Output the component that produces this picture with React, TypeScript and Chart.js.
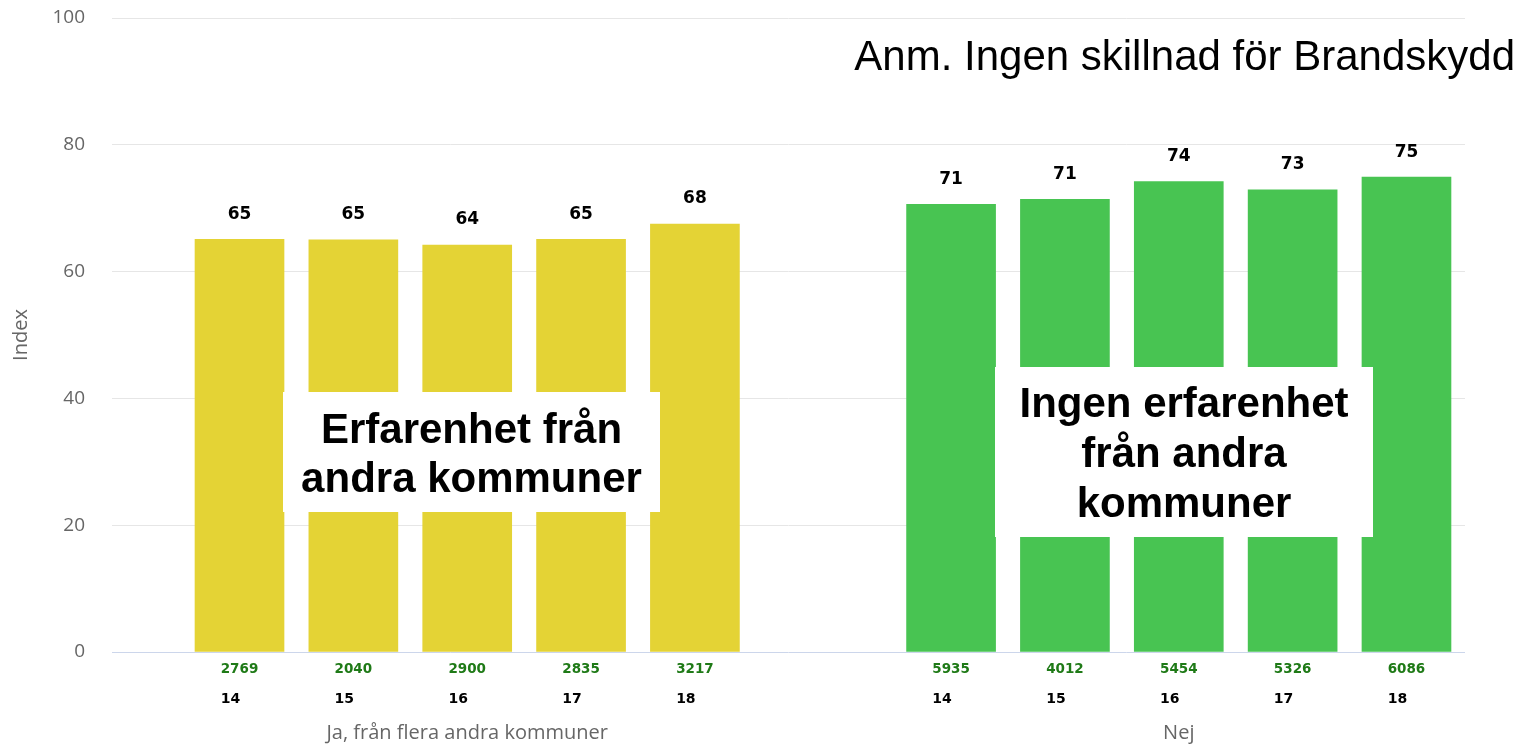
import React, { useEffect, useRef } from "react";
import { Chart, registerables } from "chart.js";

Chart.register(...registerables);

// ---- data ----
const YEARS = ["14", "15", "16", "17", "18"];
const GROUPS = ["Ja, från flera andra kommuner", "Nej"];
const JA_VALUES = [65.1, 65.0, 64.2, 65.1, 67.5];
const NEJ_VALUES = [70.6, 71.4, 74.2, 72.9, 74.9];
const JA_COUNTS = ["2769", "2040", "2900", "2835", "3217"];
const NEJ_COUNTS = ["5935", "4012", "5454", "5326", "6086"];
const Y_MIN = 0;
const Y_MAX = 100;
const Y_STEP = 20;
const NOTE = "Anm. Ingen skillnad för Brandskydd";
const BOX_JA = ["Erfarenhet från", "andra kommuner"];
const BOX_NEJ = ["Ingen erfarenhet", "från andra", "kommuner"];

// ---- layout / style ----
const W = 1523;
const H = 745;
const YELLOW = "#e4d335";
const GREEN = "#48c452";
const GROUP_GAP = 1.25;
const X_MIN = -1.12;
const X_MAX = 10.764;

const jaX = JA_VALUES.map((_, i) => i);
const nejX = NEJ_VALUES.map((_, i) => i + JA_VALUES.length + GROUP_GAP);

const overlayPlugin = {
  id: "overlay",
  afterDatasetsDraw(chart: any) {
    const ctx = chart.ctx as CanvasRenderingContext2D;
    const xs = chart.scales.x;
    const area = chart.chartArea;
    const countsAll = [JA_COUNTS, NEJ_COUNTS];
    ctx.save();
    chart.data.datasets.forEach((ds: any, di: number) => {
      const meta = chart.getDatasetMeta(di);
      const centers: number[] = [];
      meta.data.forEach((bar: any, i: number) => {
        const v = ds.data[i].y;
        // value label
        ctx.font = "bold 17px 'DejaVu Sans'";
        ctx.fillStyle = "#000";
        ctx.textAlign = "center";
        ctx.textBaseline = "middle";
        ctx.fillText(String(Math.round(v)), bar.x, bar.y - 25);
        // count label
        const cnt = countsAll[di][i];
        ctx.font = "bold 13.5px 'DejaVu Sans'";
        const cw = ctx.measureText(cnt).width;
        ctx.fillStyle = "#1f7a17";
        ctx.textAlign = "left";
        ctx.fillText(cnt, bar.x - cw / 2, area.bottom + 17);
        // year label
        ctx.font = "bold 14px 'DejaVu Sans'";
        ctx.fillStyle = "#000";
        ctx.fillText(YEARS[i], bar.x - cw / 2, area.bottom + 47);
        centers.push(xs.getPixelForValue(ds.data[i].x));
      });
      const mid = (centers[0] + centers[centers.length - 1]) / 2;
      ctx.font = "20px 'Open Sans'";
      ctx.fillStyle = "#666";
      ctx.textAlign = "center";
      ctx.fillText(GROUPS[di], mid, area.bottom + 81);
    });

    // annotation boxes
    const drawBox = (x0: number, y0: number, x1: number, y1: number, lines: string[], base0: number, lh: number) => {
      ctx.fillStyle = "#fff";
      ctx.fillRect(x0, y0, x1 - x0, y1 - y0);
      ctx.fillStyle = "#000";
      ctx.font = "bold 42px 'Liberation Sans'";
      ctx.textAlign = "center";
      ctx.textBaseline = "alphabetic";
      lines.forEach((t, i) => ctx.fillText(t, (x0 + x1) / 2, base0 + i * lh));
    };
    drawBox(283, 392, 660, 512, BOX_JA, 443, 49);
    drawBox(995, 367, 1373, 537, BOX_NEJ, 417, 50);

    ctx.font = "42px 'Liberation Sans'";
    ctx.fillStyle = "#000";
    ctx.textAlign = "right";
    ctx.textBaseline = "alphabetic";
    ctx.fillText(NOTE, 1515, 70);
    ctx.restore();
  },
};

export default function App() {
  const ref = useRef<HTMLCanvasElement | null>(null);
  useEffect(() => {
    document.body.style.margin = "0";
    if (!ref.current) return;
    const chart = new Chart(ref.current, {
      type: "bar",
      data: {
        datasets: [
          {
            label: GROUPS[0],
            data: JA_VALUES.map((v, i) => ({ x: jaX[i], y: v })),
            backgroundColor: YELLOW,
          },
          {
            label: GROUPS[1],
            data: NEJ_VALUES.map((v, i) => ({ x: nejX[i], y: v })),
            backgroundColor: GREEN,
          },
        ],
      },
      options: {
        responsive: false,
        animation: false,
        layout: { padding: { top: 18, right: 58, bottom: 93, left: 0 } },
        datasets: { bar: { grouped: false, barThickness: 89 } } as any,
        plugins: { legend: { display: false }, tooltip: { enabled: false } },
        scales: {
          x: { type: "linear", min: X_MIN, max: X_MAX, offset: false, display: false },
          y: {
            min: Y_MIN,
            max: Y_MAX,
            ticks: {
              stepSize: Y_STEP,
              padding: 27,
              color: "#666",
              font: { family: "'Open Sans'", size: 19 },
            },
            grid: {
              drawTicks: false,
              color: (c: any) => (c.tick && c.tick.value === 0 ? "#ccd6eb" : "#e6e6e6"),
            },
            border: { display: false },
            title: {
              display: true,
              text: "Index",
              color: "#666",
              font: { family: "'Open Sans'", size: 20 },
              padding: { top: 9, bottom: 0 },
            },
            afterFit: (s: any) => {
              s.width = 112;
              s.paddingTop = 0;
              s.paddingBottom = 0;
            },
          },
        },
      } as any,
      plugins: [overlayPlugin],
    });
    return () => chart.destroy();
  }, []);
  return (
    <div style={{ width: W, height: H, background: "#fff" }}>
      <canvas ref={ref} width={W} height={H} />
    </div>
  );
}
